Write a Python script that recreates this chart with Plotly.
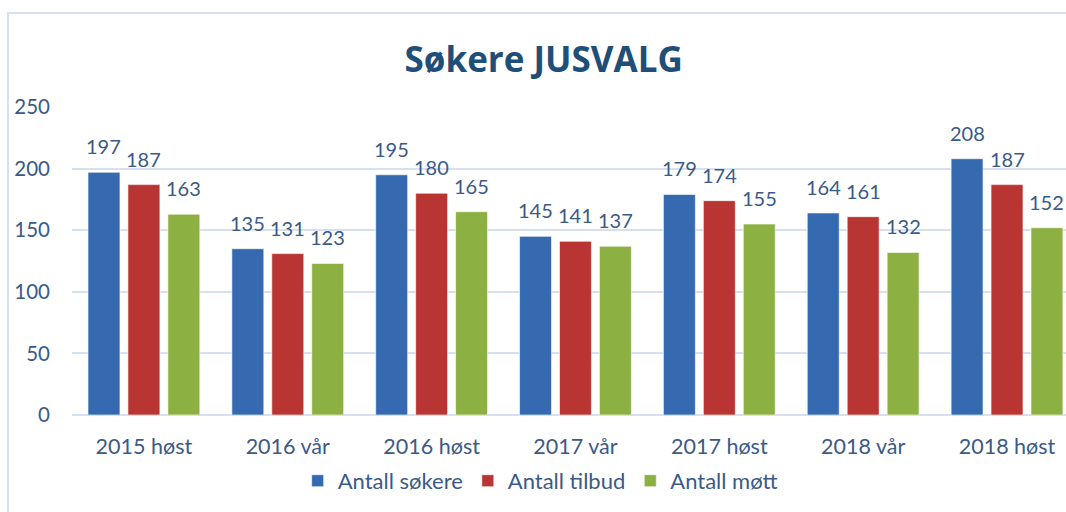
import plotly.graph_objects as go

categories = ["2015 høst", "2016 vår", "2016 høst", "2017 vår", "2017 høst", "2018 vår", "2018 høst"]
sokere = [197, 135, 195, 145, 179, 164, 208]
tilbud = [187, 131, 180, 141, 174, 161, 187]
mott = [163, 123, 165, 137, 155, 132, 152]
series_names = ["Antall søkere", "Antall tilbud", "Antall møtt"]
series_values = [sokere, tilbud, mott]
colors = ["#3569B0", "#B83533", "#8DB043"]

FONT = "Lato"
TXT = "#3A5A88"
bargap = 0.167

fig = go.Figure()
for name, vals, col in zip(series_names, series_values, colors):
    fig.add_trace(go.Bar(
        x=categories, y=vals, name=name,
        marker=dict(color=col, line=dict(color="rgba(255,255,255,0.6)", width=1)),
    ))

# data labels above bars
slot = (1 - bargap) / 3
annotations = []
for si, vals in enumerate(series_values):
    for ci, v in enumerate(vals):
        annotations.append(dict(
            x=ci + (si - 1) * slot, y=v, xref="x", yref="y",
            text=str(v), showarrow=False, yanchor="middle", yshift=26,
            font=dict(family=FONT, size=20, color=TXT),
        ))

fig.update_layout(
    width=1066, height=512,
    paper_bgcolor="white", plot_bgcolor="white",
    margin=dict(l=72, r=0, t=107, b=97),
    barmode="group", bargap=bargap, bargroupgap=0.2,
    title=dict(text="<b>Søkere JUSVALG</b>", x=0.51, xref="container", xanchor="center",
               y=0.883, yref="container", yanchor="middle",
               font=dict(family="Open Sans", size=35, color="#1F4E79")),
    font=dict(family=FONT, size=19, color=TXT),
    xaxis=dict(range=[-0.50, 6.41], showgrid=False, showline=False, ticks="",
               ticklabelstandoff=16,
               tickfont=dict(family=FONT, size=21.5, color=TXT)),
    yaxis=dict(range=[0, 250], dtick=50, showgrid=True, gridcolor="#D5E1F0", gridwidth=2,
               zeroline=True, zerolinecolor="#D5E1F0", zerolinewidth=2,
               ticks="", ticklabelstandoff=21,
               tickfont=dict(family=FONT, size=20.5, color=TXT)),
    legend=dict(orientation="h", x=0.471, xanchor="center", y=-0.214, yanchor="middle",
                font=dict(family=FONT, size=22, color=TXT), itemwidth=30,
                traceorder="normal"),
    annotations=annotations,
    shapes=[dict(type="rect", xref="paper", yref="paper",
                 x0=-0.0644, x1=1.2, y0=-0.6, y1=1.305,
                 line=dict(color="#D5E1F0", width=2), fillcolor="rgba(0,0,0,0)", layer="below")],
)

fig.write_html("out.html", config={"displayModeBar": False},
               post_script="document.body.style.margin='0';document.body.style.overflow='hidden';")
